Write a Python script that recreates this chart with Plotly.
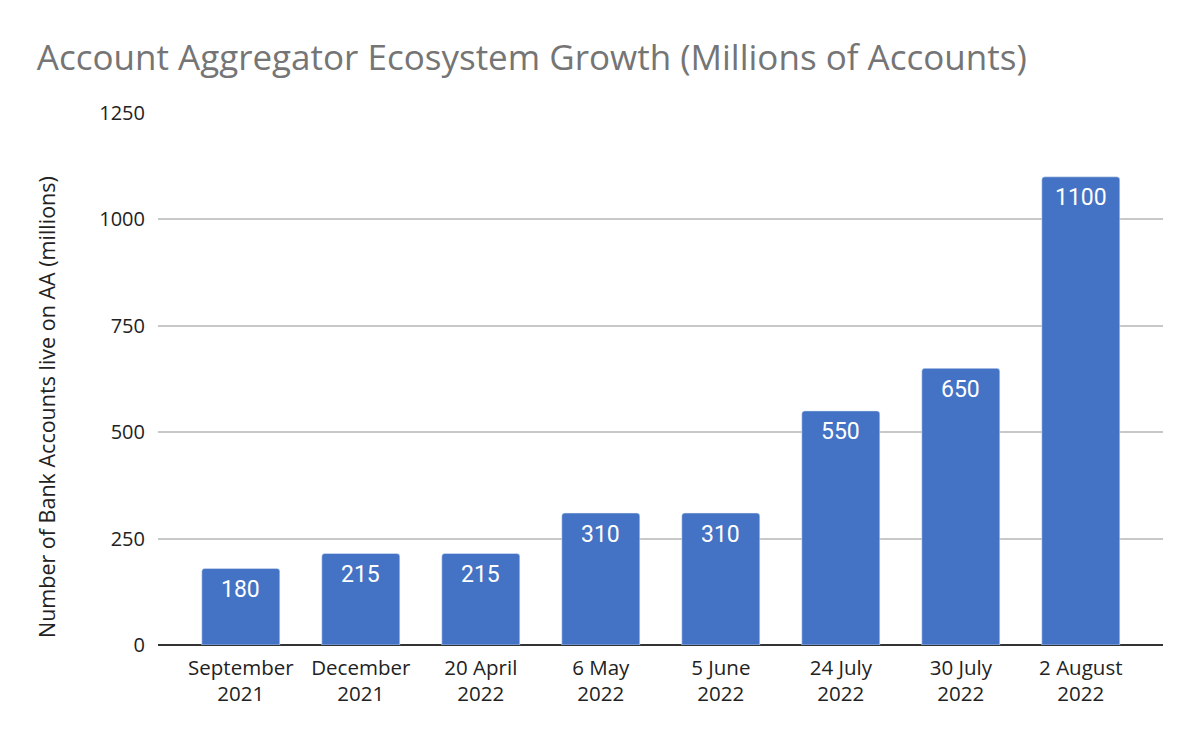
import plotly.graph_objects as go

# dados do gráfico
categorias = [
    "September<br>2021", "December<br>2021", "20 April<br>2022", "6 May<br>2022",
    "5 June<br>2022", "24 July<br>2022", "30 July<br>2022", "2 August<br>2022",
]
contas = [180, 215, 215, 310, 310, 550, 650, 1100]
ticks_y = [0, 250, 500, 750, 1000, 1250]

fig = go.Figure(
    go.Bar(
        x=categorias,
        y=contas,
        marker=dict(color="#4472C4", cornerradius=3),
        hoverinfo="x+y",
    )
)

# rótulos dentro das barras, um pouco abaixo do topo
for cat, val in zip(categorias, contas):
    fig.add_annotation(
        x=cat, y=val, text=str(val),
        showarrow=False, yanchor="middle", yshift=-21,
        font=dict(family="Roboto", size=23, color="white"),
    )

# título do eixo y como anotação para posicionar melhor
fig.add_annotation(
    text="Number of Bank Accounts live on AA (millions)",
    xref="paper", yref="paper", x=-0.1104, y=0.4474,
    xanchor="center", yanchor="middle", textangle=-90,
    showarrow=False,
    font=dict(family="Open Sans", size=21.5, color="#222222"),
)

# a página tem margem de 8px no body, então compensa nas margens
fig.update_layout(
    width=1200,
    height=742,
    paper_bgcolor="white",
    plot_bgcolor="white",
    bargap=0.35,
    showlegend=False,
    margin=dict(l=150, r=45, t=105, b=105),
    title=dict(
        text="Account Aggregator Ecosystem Growth (Millions of Accounts)",
        font=dict(family="Open Sans", size=35, color="#757575"),
        x=0.024, xanchor="left",
        y=0.933, yanchor="middle",
    ),
    font=dict(family="Open Sans", color="#222222"),
)

fig.update_xaxes(
    range=[-0.69, 7.685],
    tickfont=dict(size=20.5, color="#222222"),
    showgrid=False,
    ticks="",
    ticklabelstandoff=8,
)

fig.update_yaxes(
    range=[0, 1250],
    tickvals=ticks_y,
    tickfont=dict(size=20, color="#222222"),
    gridcolor="#c8c8c8",
    gridwidth=1.5,
    zeroline=True,
    zerolinecolor="#333333",
    zerolinewidth=2,
    ticklabelstandoff=12,
)

fig.write_html("out.html")
